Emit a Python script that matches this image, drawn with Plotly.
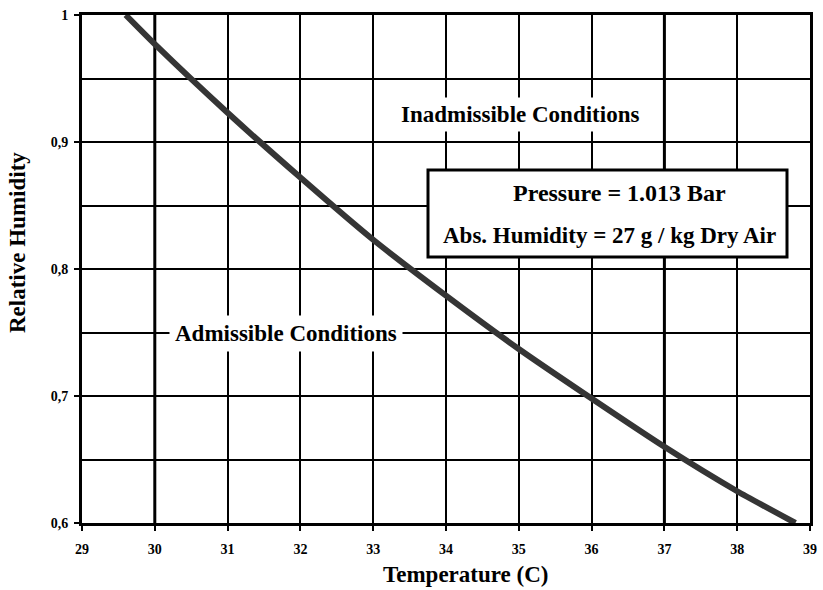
import plotly.graph_objects as go

# Data
temperature = [29.6, 30.0, 31.0, 32.0, 33.0, 34.0, 35.0, 36.0, 37.0, 38.0, 38.8]
rel_humidity = [1.0, 0.977, 0.923, 0.872, 0.823, 0.779, 0.737, 0.698, 0.660, 0.625, 0.6]

x_ticks = [29, 30, 31, 32, 33, 34, 35, 36, 37, 38, 39]
y_ticks = [0.6, 0.7, 0.8, 0.9, 1.0]
y_tick_labels = ["0,6", "0,7", "0,8", "0,9", "1"]
y_minor_grid = [0.65, 0.75, 0.85, 0.95]

FONT = "Liberation Serif"
L, R, T, B = 82, 13, 15, 67
W, H = 823, 590
PW, PH = W - L - R, H - T - B


def px_to_paper(px, py):
    return (px - L) / PW, (H - B - py) / PH


fig = go.Figure()
fig.add_trace(go.Scatter(
    x=temperature, y=rel_humidity, mode="lines",
    line=dict(color="#353535", width=6, shape="spline", smoothing=0.5),
    showlegend=False, hoverinfo="skip",
))

fig.update_layout(
    width=W, height=H,
    margin=dict(l=L, r=R, t=T, b=B, autoexpand=False),
    paper_bgcolor="white", plot_bgcolor="white",
    font=dict(family=FONT, color="black"),
    showlegend=False,
)

fig.update_xaxes(
    range=[29, 39], tickvals=x_ticks, ticktext=[str(v) for v in x_ticks],
    showgrid=True, gridcolor="black", gridwidth=2,
    showline=True, linecolor="black", linewidth=3, mirror=True,
    ticks="outside", ticklen=5, tickwidth=2, tickcolor="black",
    tickfont=dict(family=FONT, size=14, color="black", weight="bold"),
    ticklabelstandoff=6, zeroline=False, automargin=False,
)
fig.update_yaxes(
    range=[0.6, 1.0], tickvals=y_ticks, ticktext=y_tick_labels,
    showgrid=True, gridcolor="black", gridwidth=2,
    minor=dict(tickvals=y_minor_grid, showgrid=True,
               gridcolor="black", gridwidth=2, ticks=""),
    showline=True, linecolor="black", linewidth=3, mirror=True,
    ticks="outside", ticklen=5, tickwidth=2, tickcolor="black",
    tickfont=dict(family=FONT, size=14, color="black", weight="bold"),
    ticklabelstandoff=3, zeroline=False, automargin=False,
)

# Thicker grid lines at 30 and 37
for xv in (30, 37):
    fig.add_shape(type="line", x0=xv, x1=xv, y0=0, y1=1, xref="x", yref="paper",
                  line=dict(color="black", width=3), layer="below")

# Info box
bx0, by0 = px_to_paper(428, 257)
bx1, by1 = px_to_paper(787, 170)
fig.add_shape(type="rect", xref="paper", yref="paper",
              x0=bx0, x1=bx1, y0=by0, y1=by1,
              fillcolor="white", line=dict(color="black", width=3), layer="above")

bold = dict(family=FONT, size=23, color="black", weight="bold")


def text_at(px, py, text, **kw):
    x, y = px_to_paper(px, py)
    fig.add_annotation(x=x, y=y, xref="paper", yref="paper", text=text,
                       xanchor="center", yanchor="middle",
                       showarrow=False, font=kw.pop("font", bold), **kw)


text_at(619, 193, "Pressure = 1.013 Bar", font=dict(bold, size=24))
text_at(609, 235, "Abs. Humidity = 27 g / kg Dry Air")
text_at(520, 114, "Inadmissible Conditions", bgcolor="white", borderpad=4)
text_at(286, 333, "Admissible Conditions", bgcolor="white", borderpad=5)

# Axis titles
text_at(465, 574, "Temperature (C)")
text_at(17, 243, "Relative Humidity", textangle=-90)

fig.write_html("out.html", config={"displayModeBar": False},
               post_script="document.body.style.margin='0';")
